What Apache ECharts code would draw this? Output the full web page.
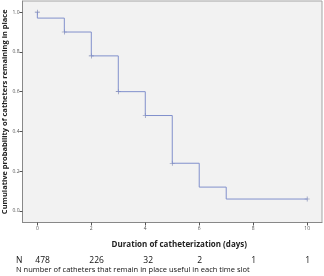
<!DOCTYPE html>
<html>
<head>
<meta charset="utf-8">
<script src="https://cdn.jsdelivr.net/npm/echarts@6/dist/echarts.min.js"></script>
<style>
  html, body { margin: 0; padding: 0; background: #fff; }
  #chart { width: 324px; height: 276px; }
</style>
</head>
<body>
<div id="chart"></div>
<script>
// survival curve (step drops at each day)
const stepDays = [0, 0, 1, 2, 3, 4, 5, 6, 7, 10]
const stepProb = [1.0, 0.97, 0.90, 0.78, 0.60, 0.48, 0.24, 0.12, 0.06, 0.06]
// censored marks
const censorDays = [0, 1, 2, 3, 4, 5, 10]
const censorProb = [1.0, 0.90, 0.78, 0.60, 0.48, 0.24, 0.06]
// tick labels
const xTicks = [0, 2, 4, 6, 8, 10]
const yTicks = [0, 0.2, 0.4, 0.6, 0.8, 1.0]
// at-risk table
const nDays = [0, 2, 4, 6, 8, 10]
const nCounts = [478, 226, 32, 2, 1, 1]

const chart = echarts.init(document.getElementById('chart'))
const font = 'Open Sans'

const option = {
  animation: false,
  grid: {
    left: 22.5,
    top: 1,
    right: 2,
    bottom: 53.5,
    outerBoundsMode: 'none',
    containLabel: false,
    show: true,
    backgroundColor: '#f2f2f2',
    borderColor: '#a3a3a3',
    borderWidth: 1
  },
  xAxis: {
    type: 'value',
    min: -0.55,
    max: 10.55,
    name: 'Duration of catheterization (days)',
    nameLocation: 'middle',
    nameGap: 18,
    nameMoveOverlap: false,
    nameTextStyle: { fontFamily: font, fontWeight: 'bold', fontSize: 8, color: '#222', padding: [0, 0, 0, 14] },
    axisLine: { onZero: false, lineStyle: { color: '#888' } },
    axisTick: { show: true, length: 3, lineStyle: { color: '#555' }, customValues: xTicks },
    axisLabel: { fontSize: 5, color: '#555', margin: 4, fontFamily: font, customValues: xTicks, formatter: (v) => String(v) },
    splitLine: { show: false }
  },
  yAxis: {
    type: 'value',
    min: -0.058,
    max: 1.056,
    name: 'Cumulative probability of catheters remaining in place',
    nameLocation: 'middle',
    nameGap: 13.5,
    nameMoveOverlap: false,
    nameTextStyle: { fontFamily: font, fontWeight: 'bold', fontSize: 7.5, color: '#222' },
    axisLine: { show: true, onZero: false, lineStyle: { color: '#888' } },
    axisTick: { show: true, length: 3, lineStyle: { color: '#555' }, customValues: yTicks },
    axisLabel: { fontSize: 5, color: '#555', margin: 3, fontFamily: font, customValues: yTicks, formatter: (v) => v.toFixed(1) },
    splitLine: { show: false }
  },
  series: [
    {
      type: 'line',
      step: 'end',
      data: stepDays.map((d, i) => [d, stepProb[i]]),
      showSymbol: false,
      lineStyle: { color: '#8190cc', width: 1 }
    },
    {
      type: 'scatter',
      data: censorDays.map((d, i) => [d, censorProb[i]]),
      symbol: 'path://M4.4,0 L5.6,0 L5.6,4.4 L10,4.4 L10,5.6 L5.6,5.6 L5.6,10 L4.4,10 L4.4,5.6 L0,5.6 L0,4.4 L4.4,4.4 Z',
      symbolSize: 5,
      itemStyle: { color: '#56639e' }
    }
  ]
}
chart.setOption(option)

// at-risk numbers placed under the day ticks
const graphics = [
  { type: 'text', left: 16, top: 256, style: { text: 'N', font: '8.5px "' + font + '"', fill: '#111' } },
  { type: 'text', left: 16, top: 266, style: { text: 'N number of catheters that remain in place useful in each time slot', font: '7.5px "' + font + '"', fill: '#111' } }
]
nDays.forEach((d, i) => {
  const px = chart.convertToPixel({ xAxisIndex: 0 }, d)
  graphics.push({ type: 'text', x: px - 2, y: 256, style: { text: String(nCounts[i]), font: '8.5px "' + font + '"', fill: '#111' } })
})
chart.setOption({ graphic: graphics })
</script>
</body>
</html>
